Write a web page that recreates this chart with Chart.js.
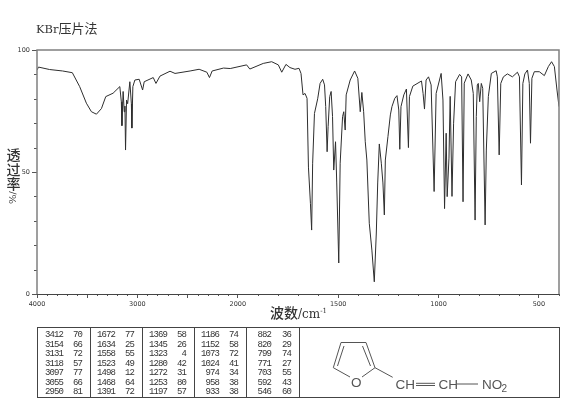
<!DOCTYPE html>
<html>
<head>
<meta charset="utf-8">
<title>KBr压片法</title>
<script src="https://cdn.jsdelivr.net/npm/chart.js@4"></script>
<style>
  html, body { margin: 0; padding: 0; background: #fff; }
  #page { position: relative; width: 570px; height: 411px; overflow: hidden; }
  #spectrum { position: absolute; left: 0; top: 0; }
  .label { position: absolute; color: #333; white-space: nowrap; font-family: "Noto Sans CJK SC", "DejaVu Serif", serif; }
  .latin { font-family: "DejaVu Serif", serif; }
  #peakTable { position: absolute; left: 37px; top: 327px; width: 521px; height: 69px; border: 1px solid #444; }
  .divider { position: absolute; top: 0; width: 1px; height: 69px; background: #444; }
  .cell { position: absolute; font: 9px "Liberation Mono", monospace; letter-spacing: -0.9px; color: #333; text-align: right; width: 30px; line-height: 9px; }
  #molecule { position: absolute; left: 300px; top: 328px; }
</style>
</head>
<body>
<div id="page">
  <canvas id="spectrum" width="570" height="411"></canvas>
  <div class="label" style="left:36px;top:19px;font-size:13px;line-height:18px"><span class="latin" style="font-size:11.5px">KBr</span>压片法</div>
  <div class="label" style="left:6px;top:147px;font-size:14px;line-height:14.7px;width:15px;text-align:center;font-weight:500">透<br>过<br>率</div>
  <div class="label latin" style="left:7px;top:192px;font-size:10px;line-height:12px;transform-origin:6px 6px;transform:rotate(-90deg)">%/</div>
  <div class="label" style="left:270px;top:303px;font-size:14px;line-height:18px;font-weight:500">波数<span class="latin" style="font-size:12px">/cm<sup style="font-size:7px;line-height:0">-1</sup></span></div>
  <div id="peakTable"></div>
  <svg id="molecule" width="230" height="68" viewBox="300 328 230 68" fill="none" stroke="#555" stroke-width="1">
    <path d="M341 342.5H366L375 367.7L362 377M350 377L333.3 367.7L341 342.5"/>
    <path d="M344 346L337.5 366M362.5 346L370.5 366"/>
    <path d="M375 367.7L392.7 377.3"/>
    <path d="M416 383.3H435M416 385.5H435M457 384H478"/>
    <g fill="#555" stroke="none" font-family="Liberation Sans, sans-serif" font-size="13.5">
      <text x="351" y="386.5">O</text>
      <text x="395.5" y="388.5">CH</text>
      <text x="438.5" y="388.5">CH</text>
      <text x="482" y="388.5">NO</text>
      <text x="501.5" y="391.5" font-size="10">2</text>
    </g>
  </svg>
</div>
<script>
// Spectrum (wavenumber in cm-1, transmittance in %)
const wavenumbers = [
  4000, 3985, 3875, 3745, 3648, 3575, 3508, 3458, 3408, 3358, 3315, 3242, 3175, 3160, 3154, 3142, 3131, 3124, 3118, 3108, 3097, 3075, 3060, 3055, 3045, 3025,
  2982, 2948, 2932, 2842, 2815, 2775, 2675, 2625, 2475, 2385, 2308, 2282, 2255, 2142, 2075, 1956, 1940, 1873, 1831, 1798, 1781, 1760, 1740,
  1715, 1695, 1685, 1675, 1665, 1655, 1648, 1638, 1632, 1627, 1618, 1602, 1590, 1577, 1568, 1562, 1555, 1550, 1542, 1535, 1528, 1522, 1513, 1507, 1497, 1490,
  1478, 1472, 1465, 1460, 1440, 1418, 1402, 1390, 1382, 1373, 1365, 1357, 1345, 1332, 1320, 1310, 1303, 1295, 1285, 1277, 1270, 1265, 1252, 1240, 1232, 1218,
  1207, 1198, 1193, 1187, 1173, 1160, 1150, 1145, 1128, 1085, 1077, 1070, 1062, 1050, 1037, 1022, 1012, 987, 978, 970, 962, 957, 948, 942, 933, 925, 915, 895,
  885, 878, 872, 853, 837, 827, 818, 812, 807, 802, 795, 787, 780, 768, 762, 752, 737, 713, 707, 698, 690, 677, 657, 632, 607, 597, 587, 580, 570, 557, 548,
  542, 535, 523, 498, 473, 453, 437, 423, 410, 400
];
const transmittance = [
  91.8, 93, 92, 91.4, 90.7, 85, 78.2, 74.7, 73.7, 76, 80.9, 82.3, 85, 78.8, 69, 83, 74.7, 77, 59, 79.5, 78, 87, 78, 68, 85, 87.7,
  88, 83.6, 87, 88.7, 86.3, 89.3, 91.3, 90.4, 91.4, 92.1, 90.9, 88.7, 91.4, 92.6, 92.4, 93.9, 92.2, 94.5, 95.2, 93.9, 90.9, 94.1, 92.8,
  92.1, 92.5, 90.4, 81.6, 82.2, 80.2, 52, 37, 26.2, 53.6, 74, 80, 86.3, 88, 85.7, 76.8, 58.3, 68.6, 80.9, 83, 72.7, 50.8, 62.4, 45.5, 12.7, 53.6,
  72.7, 74.7, 67.2, 81.6, 87.7, 91.4, 88.4, 74.7, 82.6, 74.7, 62.4, 54.9, 29, 18, 5, 25, 45.5, 61.5, 53.6, 45.5, 32.4, 54.9, 64.5, 73.4, 76.8, 80.2,
  81.3, 75.4, 59.3, 76.8, 81.6, 84, 60, 80.9, 85.2, 87.3, 82.2, 75.8, 87.7, 89, 85.7, 42, 82.2, 90.4, 79.5, 35, 65.9, 39.9, 55.7, 81, 40, 70, 87, 90,
  89, 37.8, 86.4, 90.2, 87.7, 82.2, 30.3, 72.7, 85.7, 86.3, 78.8, 86.3, 84.3, 28.3, 59, 80.9, 90.4, 91.5, 89, 57, 86.3, 89, 90.2, 89, 90.9, 89, 44.7, 86.3, 90.2, 91.8, 86.3,
  61.8, 88.4, 91.1, 91.1, 89.5, 93.2, 95.2, 93.2, 83.6, 76.8
];

// Axis ticks
const xMajorTicks = [4000, 3500, 3000, 2500, 2000, 1500, 1000, 500];
const xLabelledTicks = [4000, 3000, 2000, 1500, 1000, 500];
const xMinorTicks = [3900, 3800, 3700, 3600, 3400, 3300, 3200, 3100, 2900, 2800, 2700, 2600, 2400, 2300, 2200, 2100,
  1900, 1800, 1700, 1600, 1400, 1300, 1200, 1100, 900, 800, 700, 600, 400];
const yMajorTicks = [0, 50, 100];
const yMinorTicks = [10, 20, 30, 40, 60, 70, 80, 90];

// Peak table, one list per column
const peakWavenumbers = [
  [3412, 3154, 3131, 3118, 3097, 3055, 2950],
  [1672, 1634, 1558, 1523, 1498, 1468, 1391],
  [1369, 1345, 1323, 1280, 1272, 1253, 1197],
  [1186, 1152, 1073, 1024, 974, 958, 933],
  [882, 820, 799, 771, 703, 592, 546]
];
const peakValues = [
  [70, 66, 72, 57, 77, 66, 81],
  [77, 25, 55, 49, 12, 64, 72],
  [58, 26, 4, 42, 31, 80, 57],
  [74, 58, 72, 41, 34, 38, 38],
  [36, 29, 74, 27, 55, 43, 60]
];

// The axis changes scale at 2000 cm-1 (twice as wide below it)
function toAxis(w) {
  return w >= 2000 ? (4000 - w) / 2 : 1000 + (2000 - w);
}
function fromAxis(u) {
  return u <= 1000 ? 4000 - u * 2 : 2000 - (u - 1000);
}

// Frame and short ticks
const framePlugin = {
  id: 'frame',
  afterDraw(chart) {
    const { ctx, chartArea: a, scales } = chart;
    ctx.save();
    ctx.strokeStyle = '#555';
    ctx.lineWidth = 1;
    ctx.beginPath();
    xMinorTicks.forEach(w => {
      const px = Math.round(scales.x.getPixelForValue(toAxis(w))) + 0.5;
      ctx.moveTo(px, a.bottom);
      ctx.lineTo(px, a.bottom + 2);
    });
    yMinorTicks.forEach(v => {
      const py = Math.round(scales.y.getPixelForValue(v)) + 0.5;
      ctx.moveTo(a.left, py);
      ctx.lineTo(a.left - 3, py);
    });
    ctx.stroke();
    ctx.strokeStyle = '#808080';
    ctx.lineWidth = 1.5;
    ctx.beginPath();
    ctx.moveTo(a.left, a.bottom);
    ctx.lineTo(a.left, a.top);
    ctx.lineTo(a.right, a.top);
    ctx.lineTo(a.right, a.bottom);
    ctx.stroke();
    ctx.strokeStyle = '#444';
    ctx.lineWidth = 1;
    ctx.beginPath();
    ctx.moveTo(a.left, a.bottom + 0.5);
    ctx.lineTo(a.right, a.bottom + 0.5);
    ctx.stroke();
    ctx.restore();
  }
};

new Chart(document.getElementById('spectrum'), {
  type: 'line',
  data: {
    datasets: [{
      data: wavenumbers.map((w, i) => ({ x: toAxis(w), y: transmittance[i] })),
      borderColor: '#2e2e2e',
      borderWidth: 1,
      pointRadius: 0,
      tension: 0
    }]
  },
  options: {
    responsive: false,
    animation: false,
    layout: { padding: { left: 0, top: 50, right: 11, bottom: 97 } },
    plugins: { legend: { display: false }, tooltip: { enabled: false } },
    scales: {
      x: {
        type: 'linear',
        min: 0,
        max: 2600,
        border: { display: false },
        grid: { drawOnChartArea: false, tickLength: 4, tickColor: '#555' },
        afterBuildTicks(scale) {
          scale.ticks = xMajorTicks.map(w => ({ value: toAxis(w) }));
        },
        afterFit(scale) { scale.height = 20; },
        ticks: {
          autoSkip: false,
          maxRotation: 0,
          padding: 2,
          color: '#333',
          font: { family: 'DejaVu Sans', size: 6.5 },
          callback(value) {
            const w = fromAxis(value);
            return xLabelledTicks.includes(w) ? String(w) : '';
          }
        }
      },
      y: {
        min: 0,
        max: 100,
        border: { display: false },
        grid: { drawOnChartArea: false, tickLength: 5, tickColor: '#555' },
        afterBuildTicks(scale) {
          scale.ticks = yMajorTicks.map(v => ({ value: v }));
        },
        afterFit(scale) { scale.width = 37; },
        ticks: {
          padding: 2,
          color: '#333',
          font: { family: 'DejaVu Sans', size: 6.5 },
          callback(value) { return String(value); }
        }
      }
    }
  },
  plugins: [framePlugin]
});

// Peak table
const table = document.getElementById('peakTable');
const numberRight = [25, 77, 129, 181, 233];
const valueRight = [44, 96, 148, 200, 253];
const dividers = [52, 104, 156, 208, 261];
dividers.forEach(x => {
  const d = document.createElement('div');
  d.className = 'divider';
  d.style.left = x + 'px';
  table.appendChild(d);
});
function addCell(text, right, row) {
  const c = document.createElement('div');
  c.className = 'cell';
  c.textContent = text;
  c.style.left = (right - 30) + 'px';
  c.style.top = (3 + row * 9.5) + 'px';
  table.appendChild(c);
}
peakWavenumbers.forEach((column, i) => {
  column.forEach((w, row) => {
    addCell(w, numberRight[i], row);
    addCell(peakValues[i][row], valueRight[i], row);
  });
});
</script>
</body>
</html>
